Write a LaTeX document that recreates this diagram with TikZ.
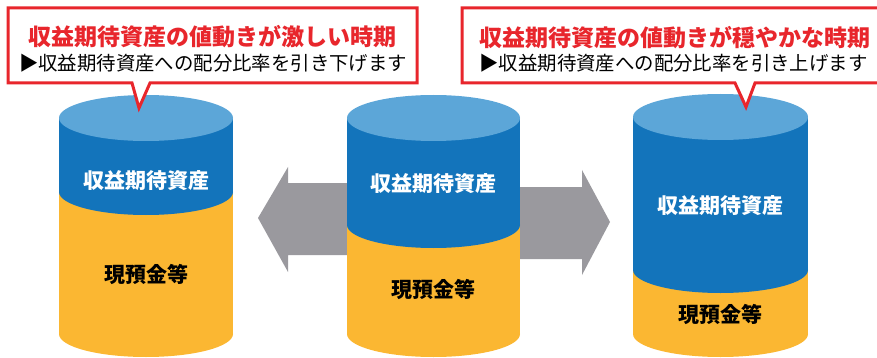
\documentclass[tikz,border=0pt]{standalone}
\usepackage{fontspec}
\newfontfamily\jp{Noto Sans CJK JP}
\definecolor{topblue}{HTML}{5CA6D8}
\definecolor{bodyblue}{HTML}{1374BB}
\definecolor{gold}{HTML}{FBB732}
\definecolor{arrgray}{HTML}{9A999E}
\definecolor{calred}{HTML}{E8262C}
\tikzset{
  callout/.style={draw=calred, line width=3pt, fill=white, line join=miter},
  arrowshape/.style={fill=arrgray, draw=none},
  titletext/.style={font=\jp\bfseries\fontsize{23}{25}\selectfont, text=calred, inner sep=0pt},
  subtext/.style={font=\jp\fontsize{19.4}{22}\selectfont, text=black, inner sep=0pt},
  risklabel/.style={font=\jp\bfseries\fontsize{21}{23}\selectfont, text=white, inner sep=0pt},
  cashlabel/.style={font=\jp\bfseries\fontsize{21}{23}\selectfont, text=black, inner sep=0pt},
}
% cylinder: cx, rx, ytop, yboundary, ybottom, ry
\newcommand{\mycyl}[6]{%
  \fill[gold] (#1-#2,#4) rectangle (#1+#2,#5);
  \fill[gold] (#1,#5) ellipse[x radius=#2pt, y radius=#6pt];
  \fill[bodyblue] (#1-#2,#3) rectangle (#1+#2,#4);
  \fill[bodyblue] (#1,#4) ellipse[x radius=#2pt, y radius=#6pt];
  \fill[topblue] (#1,#3) ellipse[x radius=#2pt, y radius=#6pt];
}
\begin{document}
\begin{tikzpicture}[x=1pt,y=-1pt]
\useasboundingbox (0,0) rectangle (877,358);
\clip (0,0) rectangle (877,358);
% arrows
\coordinate (ltip) at (258,218);
\coordinate (rtip) at (610,222);
\fill[arrowshape] (433,183) -- (288,183) -- (288,167) -- (ltip) -- (288,272) -- (288,255) -- (433,255) -- cycle;
\fill[arrowshape] (433,187) -- (582,187) -- (582,170) -- (rtip) -- (582,275) -- (582,259) -- (433,259) -- cycle;
% cylinders
\mycyl{146}{87}{118}{192}{334}{23}
\mycyl{433.5}{86.5}{118}{225}{334}{23}
\mycyl{720.5}{87.5}{117}{270}{334}{23}
\node[risklabel] (r1) at (146,181) {収益期待資産};
\node[cashlabel] (c1) at (146,274) {現預金等};
\node[risklabel] (r2) at (433.5,184) {収益期待資産};
\node[cashlabel] (c2) at (433.5,289) {現預金等};
\node[risklabel] (r3) at (720.5,206) {収益期待資産};
\node[cashlabel] (c3) at (720.5,314) {現預金等};
% callouts
\draw[callout] (8,8) -- (417,8) -- (417,83) -- (150,83) -- (139,108) -- (132,83) -- (8,83) -- cycle;
\draw[callout] (462,8) -- (890,8) -- (890,83) -- (755,83) -- (746,107) -- (735,83) -- (462,83) -- cycle;
\node[titletext] (t1) at (212.5,37) {収益期待資産の値動きが激しい時期};
\node[subtext] (s1) at (213,63) {▶収益期待資産への配分比率を引き下げます};
\node[titletext] (t2) at (675,38) {収益期待資産の値動きが穏やかな時期};
\node[subtext] (s2) at (673.5,63) {▶収益期待資産への配分比率を引き上げます};
\end{tikzpicture}
\end{document}
